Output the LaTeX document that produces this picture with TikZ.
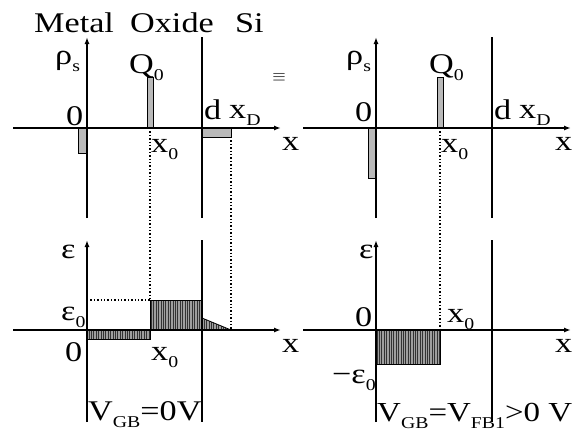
\documentclass[tikz,border=0pt]{standalone}
\usepackage{fontspec}
\setmainfont[FakeStretch=1.2]{Liberation Serif}
\usetikzlibrary{arrows.meta,patterns.meta}
\newcommand{\mysub}[1]{\raisebox{-7pt}{\fontsize{16.5}{16.5}\selectfont #1}}
\begin{document}
\begin{tikzpicture}[x=1pt,y=-1pt,
  font=\fontsize{28.5}{28.5}\selectfont,
  ax/.style={line width=1.5pt,-{Latex[length=7pt,width=5pt]}},
  wall/.style={line width=1.5pt},
  bar/.style={draw,fill=gray!55,line width=0.8pt},
  dots/.style={dotted,line width=1.4pt},
  hatch/.style={draw,line width=0.8pt,preaction={fill=gray!75},
    pattern={Lines[angle=90,distance=2.4pt,line width=0.6pt]},pattern color=black!80},
  lab/.style={anchor=base west,inner sep=0pt}]
\useasboundingbox (0,0) rectangle (581,442);
% ---------- coordinates ----------
\coordinate (xa1s) at (13,128);  \coordinate (xa1e) at (281,128);
\coordinate (ya1s) at (87,218);  \coordinate (ya1e) at (87,37);
\coordinate (w1s) at (202,37);   \coordinate (w1e) at (202,218);
\coordinate (xa2s) at (303,128); \coordinate (xa2e) at (571,128);
\coordinate (ya2s) at (376,218); \coordinate (ya2e) at (376,37);
\coordinate (w2s) at (492,37);   \coordinate (w2e) at (492,218);
\coordinate (xa3s) at (13,330);  \coordinate (xa3e) at (281,330);
\coordinate (ya3s) at (87,422);  \coordinate (ya3e) at (87,240);
\coordinate (w3s) at (202,240);  \coordinate (w3e) at (202,422);
\coordinate (xa4s) at (303,330); \coordinate (xa4e) at (571,330);
\coordinate (ya4s) at (376,422); \coordinate (ya4e) at (376,240);
\coordinate (w4s) at (492,240);  \coordinate (w4e) at (492,422);
\coordinate (d1s) at (150,128);  \coordinate (d1e) at (150,300);
\coordinate (d2s) at (231,137);  \coordinate (d2e) at (231,330);
\coordinate (d3s) at (87,300);
\coordinate (d4s) at (440,128);  \coordinate (d4e) at (440,330);
% ---------- bars and fields ----------
\draw[bar] (147,77) rectangle (153,128);
\draw[bar] (78,128) rectangle (87,153);
\draw[bar] (202,128) rectangle (231,137);
\draw[bar] (437,77) rectangle (443,128);
\draw[bar] (368,128) rectangle (376,178);
\draw[hatch] (150,300) rectangle (202,330);
\draw[hatch] (87,330) rectangle (150,339);
\draw[hatch] (202,318) -- (231,330) -- (202,330) -- cycle;
\draw[hatch] (376,330) rectangle (440,364);
% ---------- dotted guides ----------
\draw[dots] (d1s) -- (d1e);
\draw[dots] (d2s) -- (d2e);
\draw[dots] (d3s) -- (d1e);
\draw[dots] (d4s) -- (d4e);
% ---------- axes and walls ----------
\draw[ax] (xa1s) -- (xa1e);
\draw[ax] (ya1s) -- (ya1e);
\draw[wall] (w1s) -- (w1e);
\draw[ax] (xa2s) -- (xa2e);
\draw[ax] (ya2s) -- (ya2e);
\draw[wall] (w2s) -- (w2e);
\draw[ax] (xa3s) -- (xa3e);
\draw[ax] (ya3s) -- (ya3e);
\draw[wall] (w3s) -- (w3e);
\draw[ax] (xa4s) -- (xa4e);
\draw[ax] (ya4s) -- (ya4e);
\draw[wall] (w4s) -- (w4e);
% ---------- labels ----------
\node[lab] (metal) at (34,32) {Metal};
\node[lab] (oxide) at (130,32) {Oxide};
\node[lab] (si) at (235,32) {Si};
\node[inner sep=0pt,font=\fontsize{16}{16}\selectfont] (eqv) at (279,77) {$\equiv$};
% top left
\node[lab] (rho1) at (55,64) {ρ\mysub{s}};
\node[lab] (q1) at (129,73) {Q\mysub{0}};
\node[lab] (z1) at (66,125) {0};
\node[lab] (dd1) at (204,119) {d};
\node[lab] (xd1) at (229,118) {x\mysub{D}};
\node[lab] (x01) at (151,152) {x\mysub{0}};
\node[lab] (x1) at (282,150) {x};
% top right
\node[lab] (rho2) at (346,64) {ρ\mysub{s}};
\node[lab] (q2) at (429,73) {Q\mysub{0}};
\node[lab] (z2) at (355,121) {0};
\node[lab] (dd2) at (494,119) {d};
\node[lab] (xd2) at (519,118) {x\mysub{D}};
\node[lab] (x02) at (441,152) {x\mysub{0}};
\node[lab] (x2) at (555,150) {x};
% bottom left
\node[lab] (e3) at (61,258) {ε};
\node[lab] (e03) at (61,320) {ε\mysub{0}};
\node[lab] (z3) at (65,361) {0};
\node[lab] (x03) at (151,360) {x\mysub{0}};
\node[lab] (x3) at (282,352) {x};
\node[lab] (v3) at (88,420) {V\mysub{GB}=0V};
% bottom right
\node[lab] (e4) at (359,258) {ε};
\node[lab] (z4) at (355,326) {0};
\node[lab] (x04) at (447,322) {x\mysub{0}};
\node[lab] (x4) at (555,352) {x};
\node[lab] (me4) at (332,383) {−ε\mysub{0}};
\node[lab,font=\fontsize{27.5}{27.5}\selectfont] (v4) at (377,421) {V\mysub{GB}=V\mysub{FB1}>0 V};
\end{tikzpicture}
\end{document}
